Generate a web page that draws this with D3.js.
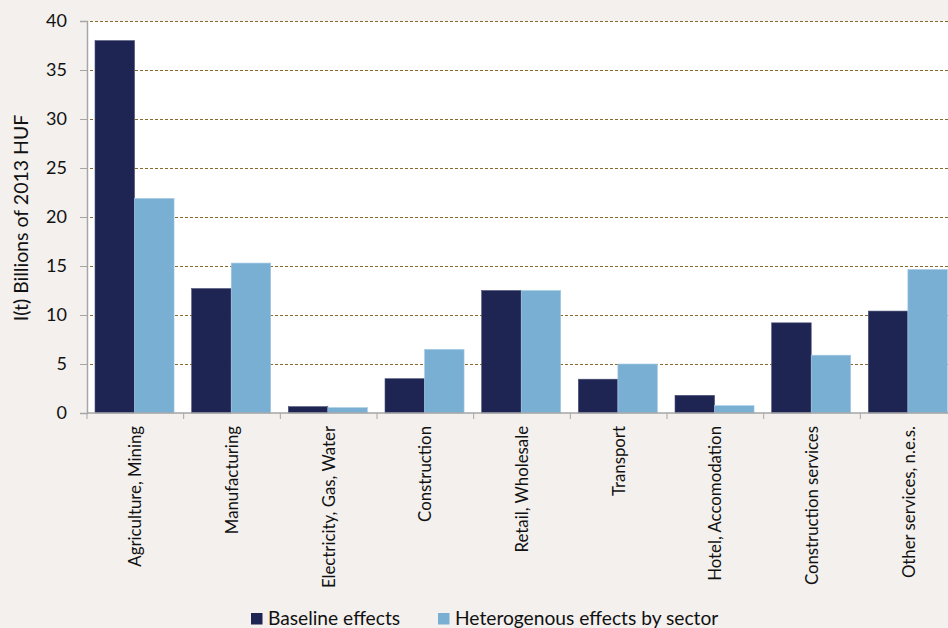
<!DOCTYPE html>
<html lang="en">
<head>
<meta charset="utf-8">
<title>Effects by sector</title>
<script src="https://cdn.jsdelivr.net/npm/d3@7"></script>
<style>
html, body { margin: 0; padding: 0; background: #f3f0ed; }
svg { display: block; font-family: Lato, "Open Sans", sans-serif; }
.grid line { stroke: #8a6a2c; stroke-dasharray: 3,2; stroke-width: 1; }
</style>
</head>
<body>
<script>

var categories = ["Agriculture, Mining", "Manufacturing", "Electricity, Gas, Water",
  "Construction", "Retail, Wholesale", "Transport", "Hotel, Accomodation",
  "Construction services", "Other services, n.e.s."];
var baseline = [38.0, 12.7, 0.65, 3.5, 12.5, 3.45, 1.8, 9.2, 10.4];
var heterogenous = [21.9, 15.3, 0.55, 6.5, 12.5, 5.0, 0.75, 5.9, 14.65];
var seriesNames = ["Baseline effects", "Heterogenous effects by sector"];
var colors = ["#1f2552", "#7aafd4"];
var yTicks = [0, 5, 10, 15, 20, 25, 30, 35, 40];

var W = 948, H = 628;
var margin = { left: 87, top: 21, right: -9, bottom: 215 };

var svg = d3.select("body").append("svg")
  .attr("width", W)
  .attr("height", H);

var x0 = d3.scaleBand()
  .domain(categories)
  .range([margin.left, W - margin.right])
  .paddingInner(0)
  .paddingOuter(0);

var x1 = d3.scaleBand()
  .domain([0, 1])
  .range([8, x0.bandwidth() - 9.6]);

var y = d3.scaleLinear()
  .domain([0, 40])
  .range([H - margin.bottom, margin.top]);

// white plot area
svg.append("rect")
  .attr("x", margin.left)
  .attr("y", margin.top)
  .attr("width", W - margin.left)
  .attr("height", y(0) - margin.top)
  .attr("fill", "#ffffff");

// gridlines
svg.append("g")
  .attr("class", "grid")
  .selectAll("line")
  .data(yTicks.filter(function(d) { return d > 0; }))
  .enter().append("line")
  .attr("x1", margin.left - 7)
  .attr("x2", W)
  .attr("y1", function(d) { return Math.round(y(d)) + 0.5; })
  .attr("y2", function(d) { return Math.round(y(d)) + 0.5; });

// bars
var groups = svg.selectAll("g.cat")
  .data(categories)
  .enter().append("g")
  .attr("class", "cat")
  .attr("transform", function(d) { return "translate(" + x0(d) + ",0)"; });

groups.selectAll("rect")
  .data(function(d, i) { return [baseline[i], heterogenous[i]]; })
  .enter().append("rect")
  .attr("x", function(d, j) { return x1(j); })
  .attr("width", x1.bandwidth())
  .attr("y", function(d) { return y(d); })
  .attr("height", function(d) { return y(0) - y(d); })
  .attr("fill", function(d, j) { return colors[j]; })
  .attr("stroke", function(d, j) { return j == 0 ? "#4a5078" : "#a9cbe5"; })
  .attr("stroke-width", 0.6);

// y axis
var yAxis = svg.append("g")
  .attr("transform", "translate(" + margin.left + ",0)")
  .call(d3.axisLeft(y).tickValues(yTicks).tickSize(7).tickPadding(13));
yAxis.select(".domain").attr("stroke", "#a6a6a6").attr("stroke-width", 1.5);
yAxis.selectAll(".tick line").attr("stroke", "#a6a6a6");
yAxis.selectAll(".tick text")
  .attr("font-size", 18)
  .attr("font-family", "Lato, sans-serif")
  .attr("fill", "#111");

// x axis
var xAxis = svg.append("g")
  .attr("transform", "translate(0," + y(0) + ")");
xAxis.append("line")
  .attr("x1", margin.left)
  .attr("x2", W)
  .attr("y1", 0).attr("y2", 0)
  .attr("stroke", "#a6a6a6")
  .attr("stroke-width", 1.5);
xAxis.selectAll("line.tk")
  .data(categories)
  .enter().append("line")
  .attr("class", "tk")
  .attr("x1", function(d) { return x0(d); })
  .attr("x2", function(d) { return x0(d); })
  .attr("y1", 0).attr("y2", 6)
  .attr("stroke", "#a6a6a6");
xAxis.selectAll("text")
  .data(categories)
  .enter().append("text")
  .attr("transform", function(d) {
    return "translate(" + (x0(d) + x0.bandwidth() / 2 + 6) + ",13) rotate(-90)";
  })
  .attr("text-anchor", "end")
  .attr("font-size", 16.8)
  .attr("fill", "#111")
  .text(function(d) { return d; });

// y title
svg.append("text")
  .attr("transform", "translate(28," + 218 + ") rotate(-90)")
  .attr("text-anchor", "middle")
  .attr("font-size", 19.5)
  .attr("fill", "#111")
  .text("I(t) Billions of 2013 HUF");

// legend
var legendX = [251, 438];
var legend = svg.selectAll("g.leg")
  .data(seriesNames)
  .enter().append("g")
  .attr("class", "leg")
  .attr("transform", function(d, i) { return "translate(" + legendX[i] + ",613)"; });
legend.append("rect")
  .attr("width", 11.5).attr("height", 11.5)
  .attr("fill", function(d, i) { return colors[i]; });
legend.append("text")
  .attr("x", 17).attr("y", 12)
  .attr("font-size", 19.2)
  .attr("fill", "#111")
  .text(function(d) { return d; });

</script>
</body>
</html>
